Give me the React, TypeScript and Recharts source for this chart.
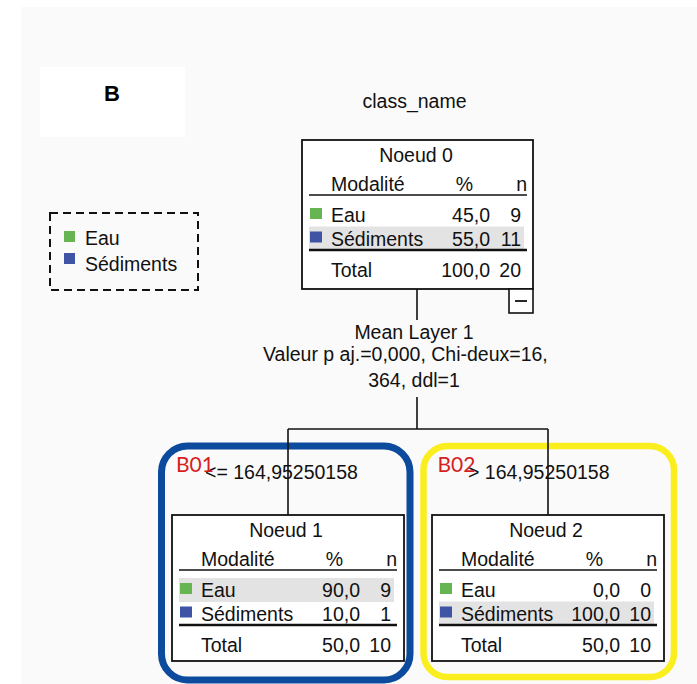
import React from 'react';
import { ComposedChart, XAxis, YAxis, ReferenceArea, ReferenceLine, ReferenceDot } from 'recharts';

// ---------- data ----------
const panelLetter = 'B';
const dependentVariable = 'class_name';
const categories = ['Eau', 'Sédiments'];
const categoryColors = ['#66b552', '#3f54a4'];
const headers = ['Modalité', '%', 'n'];
const totalLabel = 'Total';
const nodeNames = ['Noeud 0', 'Noeud 1', 'Noeud 2'];
const eauPct = [45.0, 90.0, 0.0];
const eauN = [9, 9, 0];
const sedPct = [55.0, 10.0, 100.0];
const sedN = [11, 1, 10];
const totalPct = [100.0, 50.0, 50.0];
const totalN = [20, 10, 10];
const predictedRow = [1, 0, 1];
const splitVariable = 'Mean Layer 1';
const splitStats = ['Valeur p aj.=0,000, Chi-deux=16,', '364, ddl=1'];
const branchLabels = ['<= 164,95250158', '> 164,95250158'];
const groupTags = ['B01', 'B02'];
const groupColors = ['#0b4a9c', '#fbee1f'];

// ---------- layout (pixels in the 697x684 frame) ----------
const W = 697;
const H = 684;
const FONT = '"Liberation Sans", Arial, sans-serif';
const FS = 19.5;
const nodeBoxes = [
  { L: 302, T: 140, w: 231, h: 149 },
  { L: 172, T: 515, w: 232, h: 146 },
  { L: 432, T: 515, w: 232, h: 146 },
];

const fmt = (v: number) => v.toFixed(1).replace('.', ',');

type TOpts = { anchor?: string; size?: number; weight?: string; color?: string; font?: string };
const txt = (key: string, x: number, y: number, s: string, o: TOpts = {}) => (
  <ReferenceDot
    key={key}
    x={x}
    y={y}
    r={0}
    ifOverflow="visible"
    shape={(p: any) => (
      <text
        x={p.cx}
        y={p.cy}
        textAnchor={o.anchor || 'start'}
        fontFamily={o.font || FONT}
        fontSize={o.size || FS}
        fontWeight={o.weight || 'normal'}
        fill={o.color || '#111'}
      >
        {s}
      </text>
    )}
  />
);

const rect = (
  key: string,
  x1: number,
  x2: number,
  y1: number,
  y2: number,
  fill: string,
  stroke = 'none',
  sw = 0,
  rx = 0,
  dash?: string
) => (
  <ReferenceArea
    key={key}
    x1={x1}
    x2={x2}
    y1={y1}
    y2={y2}
    ifOverflow="visible"
    shape={(p: any) => (
      <rect
        x={p.x}
        y={p.y}
        width={p.width}
        height={p.height}
        rx={rx}
        ry={rx}
        fill={fill}
        stroke={stroke}
        strokeWidth={sw}
        strokeDasharray={dash}
      />
    )}
  />
);

const line = (key: string, x1: number, y1: number, x2: number, y2: number, sw = 1.6, color = '#111') => (
  <ReferenceLine
    key={key}
    segment={[{ x: x1, y: y1 }, { x: x2, y: y2 }]}
    stroke={color}
    strokeWidth={sw}
    ifOverflow="visible"
  />
);

const nodeElements = (i: number) => {
  const { L, T, w, h } = nodeBoxes[i];
  const rows = [
    { label: categories[0], pct: eauPct[i], n: eauN[i], color: categoryColors[0] },
    { label: categories[1], pct: sedPct[i], n: sedN[i], color: categoryColors[1] },
  ];
  const els: any[] = [];
  els.push(rect(`box${i}`, L, L + w, T, T + h, '#ffffff', '#111', 1.8));
  const hb = T + 82 + predictedRow[i] * 23.5;
  els.push(rect(`hl${i}`, L + 7, L + 222, hb - 19, hb + 5, '#e3e3e3'));
  els.push(txt(`title${i}`, L + 114, T + 21.5, nodeNames[i], { anchor: 'middle' }));
  els.push(txt(`h0${i}`, L + 29, T + 51, headers[0]));
  els.push(txt(`h1${i}`, L + 162.5, T + 51, headers[1], { anchor: 'middle' }));
  els.push(txt(`h2${i}`, L + 225, T + 51, headers[2], { anchor: 'end' }));
  els.push(line(`hl1${i}`, L + 7, T + 55, L + 225, T + 55, 1.6));
  rows.forEach((r, k) => {
    const b = T + 82 + k * 23.5;
    els.push(rect(`sq${i}${k}`, L + 8, L + 20, b - 14, b - 3, r.color));
    els.push(txt(`rl${i}${k}`, L + 29, b, r.label));
    els.push(txt(`rp${i}${k}`, L + 188, b, fmt(r.pct), { anchor: 'end' }));
    els.push(txt(`rn${i}${k}`, L + 219, b, String(r.n), { anchor: 'end' }));
  });
  els.push(line(`hl2${i}`, L + 7, T + 110, L + 225, T + 110, 2.4));
  const tb = T + 136.5;
  els.push(txt(`tl${i}`, L + 29, tb, totalLabel));
  els.push(txt(`tp${i}`, L + 188, tb, fmt(totalPct[i]), { anchor: 'end' }));
  els.push(txt(`tn${i}`, L + 219, tb, String(totalN[i]), { anchor: 'end' }));
  return els;
};

export default function App() {
  return (
    <div style={{ position: 'absolute', left: 0, top: 0, width: W, height: H, background: '#ffffff' }}>
      <ComposedChart width={W} height={H} margin={{ top: 0, right: 0, bottom: 0, left: 0 }} data={[]}>
        <XAxis type="number" dataKey="x" domain={[0, W]} hide allowDataOverflow />
        <YAxis type="number" dataKey="y" domain={[0, H]} reversed hide allowDataOverflow />

        {/* background */}
        {rect('bg', 21, W, 7, H, '#fafafa')}
        {rect('bbox', 40, 185, 67, 137, '#ffffff')}

        {/* group outlines */}
        {rect('grp0', 161.5, 410, 446, 680, 'none', groupColors[0], 7, 26)}
        {rect('grp1', 423.5, 674, 446, 677, 'none', groupColors[1], 6.5, 24)}

        {/* legend */}
        {rect('leg', 50, 198, 213, 290, 'none', '#111', 2, 0, '8 5')}
        {rect('legsq0', 64, 75, 231, 242, categoryColors[0])}
        {rect('legsq1', 64, 75, 253, 264, categoryColors[1])}

        {/* node boxes */}
        {nodeElements(0)}
        {nodeElements(1)}
        {nodeElements(2)}

        {/* collapse box */}
        {rect('minus', 509, 533, 289, 313, '#ffffff', '#111', 1.6)}
        {line('minusl', 515, 301, 527, 301, 1.8)}

        {/* connectors */}
        {line('c0', 417, 289, 417, 320)}
        {line('c1', 417, 397, 417, 429)}
        {line('c2', 288, 429, 548, 429)}
        {line('c3', 288, 429, 288, 515)}
        {line('c4', 548, 429, 548, 515)}

        {/* texts */}
        {txt('panel', 112, 101, panelLetter, { anchor: 'middle', size: 22, weight: 'bold', color: '#000' })}
        {txt('dep', 414.5, 108, dependentVariable, { anchor: 'middle' })}
        {txt('leg0', 85, 245, categories[0])}
        {txt('leg1', 85, 270.7, categories[1])}
        {txt('split', 414, 339, splitVariable, { anchor: 'middle' })}
        {txt('stat0', 263, 361, splitStats[0])}
        {txt('stat1', 414, 387, splitStats[1], { anchor: 'middle' })}
        {txt('br0', 205, 479, branchLabels[0])}
        {txt('br1', 468, 479, branchLabels[1])}
        {txt('tag0', 176, 472, groupTags[0], { size: 21, color: '#d61f1f', font: 'Lato, sans-serif' })}
        {txt('tag1', 437.5, 472, groupTags[1], { size: 21, color: '#d61f1f', font: 'Lato, sans-serif' })}
      </ComposedChart>
    </div>
  );
}
